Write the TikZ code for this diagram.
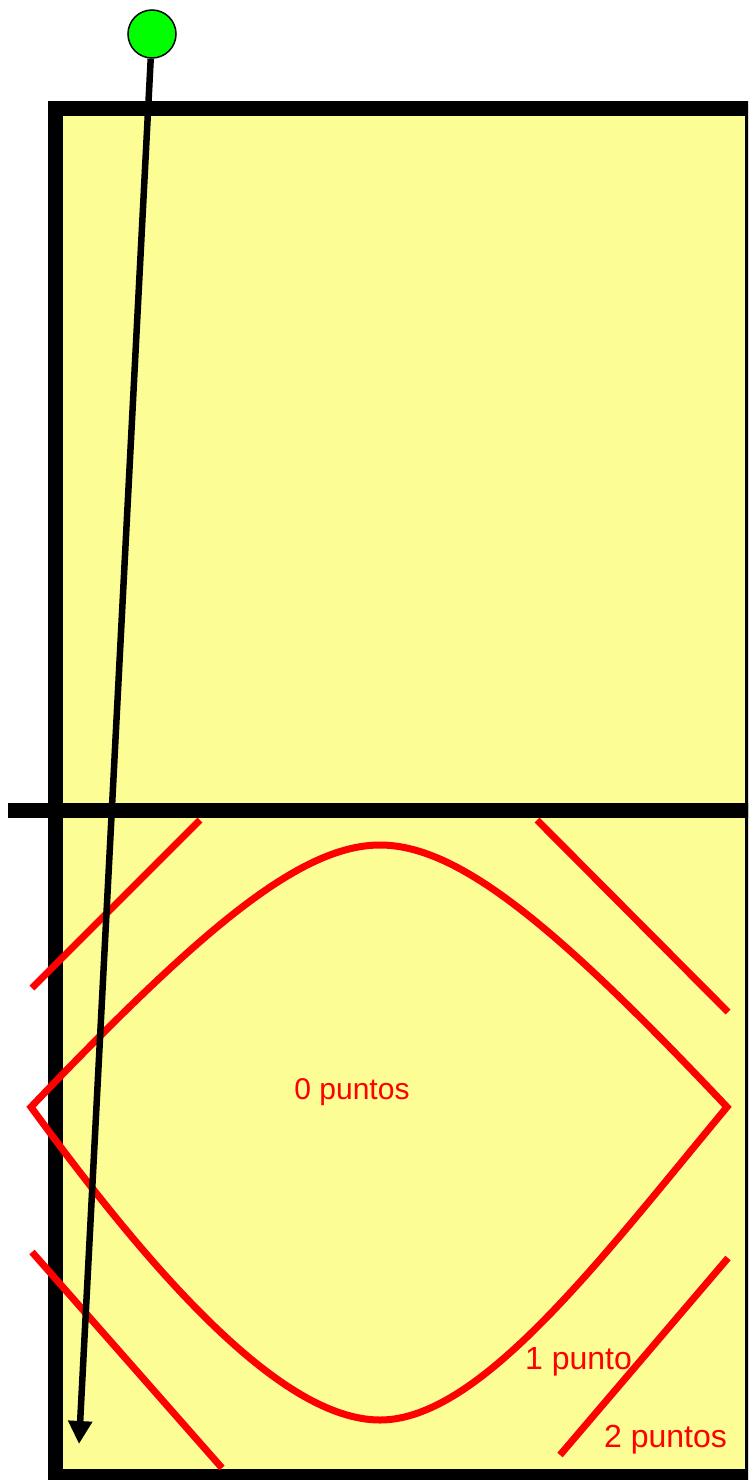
\documentclass[tikz,border=0pt]{standalone}
\usepackage{fontspec}
\setmainfont{Liberation Sans}
\usetikzlibrary{arrows.meta}
\definecolor{court}{RGB}{253,253,150}
\definecolor{ballgreen}{RGB}{0,255,0}
\tikzset{
  zone/.style={draw=red, line width=7pt},
  lbl/.style={text=red, anchor=base west, inner sep=0pt},
}
\begin{document}
\begin{tikzpicture}[x=1pt,y=-1pt]
\useasboundingbox (0,0) rectangle (748,1480);
\clip (0,0) rectangle (748,1480);
% court
\draw[line width=15pt, fill=court] (55.5,108.5) rectangle (752,1476.5);
% net / centre line
\draw[line width=15pt] (8,810) -- (760,810);
% zone lines
\draw[zone] (32,988) -- (200,820);
\draw[zone] (537,820) -- (728,1012);
\draw[zone] (32,1252) -- (222,1468);
\draw[zone] (560,1455) -- (728,1258);
\draw[zone, line join=miter] (31,1107) .. controls (200,930) and (300,845) .. (380,845)
  .. controls (460,845) and (560,930) .. (727,1107)
  .. controls (600,1260) and (480,1420) .. (380,1420)
  .. controls (280,1420) and (150,1270) .. (31,1107) -- cycle;
% labels
\node[lbl, anchor=base, font=\fontsize{30}{30}\selectfont] (l0) at (352,1099) {0 puntos};
\node[lbl, font=\fontsize{32}{32}\selectfont] (l1) at (525,1369) {1 punto};
\node[lbl, font=\fontsize{32}{32}\selectfont] (l2) at (604,1447) {2 puntos};
% ball and trajectory
\node[circle, draw=black, line width=1.5pt, fill=ballgreen, minimum size=48pt, inner sep=0pt] (ball) at (152,34) {};
\coordinate (land) at (79,1444);
\draw[line width=6.5pt, -{Triangle[length=23pt,width=23pt]}] (ball) -- (land);
\end{tikzpicture}
\end{document}
